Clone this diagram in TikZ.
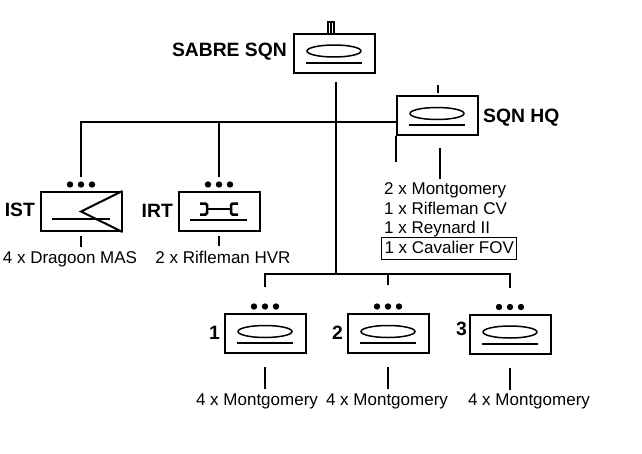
\documentclass[tikz,border=0pt]{standalone}
\usepackage{fontspec}
\setmainfont{Liberation Sans}
\usepackage{tikz}
\usetikzlibrary{calc}

\newcommand{\armsym}[1]{%
  \draw [line width=1.5pt] ($(#1)+(0,-2)$) ellipse (27 and 6);
  \draw [line width=2pt] ($(#1)+(-28,9.5)$) -- ($(#1)+(28,9.5)$);}
\newcommand{\echdots}[1]{%
  \foreach \dx in {-11,0,11} \fill ($(#1.north)+(\dx,-6.5)$) circle (3.2);}

\begin{document}
\begin{tikzpicture}[x=1pt, y=-1pt,
  unit/.style={draw, line width=2pt, minimum width=81pt, minimum height=39pt, inner sep=0pt},
  link/.style={line width=2pt},
  lbl/.style={font=\fontsize{19.3}{20}\selectfont\bfseries, inner sep=0pt},
  kit/.style={font=\fontsize{17}{18}\selectfont, inner sep=0pt}]
\useasboundingbox (0,0) rectangle (642,453);

\node [unit] (sabre) at (334,53) {};
\node [unit] (hq) at (437,115.5) {};
\node [unit] (ist) at (81,211.5) {};
\node [unit] (irt) at (219,211.5) {};
\node [unit] (tp1) at (265,333.5) {};
\node [unit] (tp2) at (388,333.5) {};
\node [unit] (tp3) at (510,334) {};

\armsym{sabre} \armsym{hq}
\armsym{tp1} \armsym{tp2} \armsym{tp3}
\echdots{ist} \echdots{irt}
\echdots{tp1} \echdots{tp2} \echdots{tp3}

\draw [line width=2pt] ($(sabre.north)+(-6.5,0)$) -- ++(0,-11) -- ++(6.5,0) -- ++(0,11);
\draw [line width=1.5pt] ($(sabre.north)+(-3.2,0)$) -- ++(0,-11);
\draw [link] ($(hq.north)+(1,-2)$) -- ++(0,-8);

\draw [line width=2pt] (ist.north east) -- (ist.center) -- (ist.south east);
\draw [line width=2pt] ($(ist)+(-29,7.5)$) -- ($(ist)+(29,7.5)$);
\draw [line width=2.5pt, rounded corners=1.5pt] ($(irt)+(-19,-8)$) -- ++(7,0) -- ++(0,11) -- ++(-7,0);
\draw [line width=2.5pt, rounded corners=1.5pt] ($(irt)+(19,-8)$) -- ++(-7,0) -- ++(0,11) -- ++(7,0);
\draw [line width=2.5pt] ($(irt)+(-12,-2.5)$) -- ($(irt)+(12,-2.5)$);
\draw [line width=2pt] ($(irt)+(-29,8.5)$) -- ($(irt)+(28,8.5)$);

\node [lbl, anchor=base east] (sabrelbl) at (287,56) {SABRE SQN};
\node [lbl, anchor=base west] (hqlbl) at (483,122) {SQN HQ};
\node [lbl, anchor=base east] (istlbl) at (35,216) {IST};
\node [lbl, anchor=base east] (irtlbl) at (173,217) {IRT};
\node [lbl, anchor=base east] (tp1lbl) at (220,339) {1};
\node [lbl, anchor=base east] (tp2lbl) at (343,339) {2};
\node [lbl, anchor=base east] (tp3lbl) at (467,335) {3};

\node [kit, anchor=base] (istkit) at (70,263) {4 x Dragoon MAS};
\node [kit, anchor=base] (irtkit) at (223,263) {2 x Rifleman HVR};
\node [kit, anchor=base west] (hqkit1) at (384,194.5) {2 x Montgomery};
\node [kit, anchor=base west] (hqkit2) at (384,214) {1 x Rifleman CV};
\node [kit, anchor=base west] (hqkit3) at (384,233.5) {1 x Reynard II};
\node [kit, draw, line width=1pt, inner xsep=3pt, inner ysep=3pt, text height=12.5pt, text depth=3pt,
  anchor=base west] (hqkit4) at (381,253) {1 x Cavalier FOV};
\node [kit, anchor=base] (tp1kit) at (257,405) {4 x Montgomery};
\node [kit, anchor=base] (tp2kit) at (387,405) {4 x Montgomery};
\node [kit, anchor=base] (tp3kit) at (529,405) {4 x Montgomery};

\coordinate (hline) at ($(hq.west)+(0,6.5)$);
\coordinate (fork) at ($(sabre.south)+(2,200)$);

\draw [link] ($(sabre.south)+(2,8)$) -- (fork);
\draw [link] ([yshift=14pt]ist.north) |- (hline);
\draw [link] ([yshift=14pt]irt.north) -- (irt.north |- hline);
\draw [link] (hq.south west) -- ++(0,26);
\draw [link] ($(hq.south)+(3,12)$) -- ($(hq.south)+(3,43)$);
\draw [link] ([yshift=26pt]tp1.north) |- (fork -| tp3.north) -- ([yshift=26pt]tp3.north);
\draw [link] (fork -| tp2.north) -- ([yshift=28pt]tp2.north);

\draw [link] ([yshift=-4pt]ist.south) -- ([yshift=-15pt]ist.south);
\draw [link] ([yshift=-4pt]irt.south) -- ([yshift=-14pt]irt.south);
\foreach \tp in {tp1,tp2,tp3}
  \draw [link] ([yshift=-13pt]\tp.south) -- ([yshift=-35pt]\tp.south);

\end{tikzpicture}
\end{document}
